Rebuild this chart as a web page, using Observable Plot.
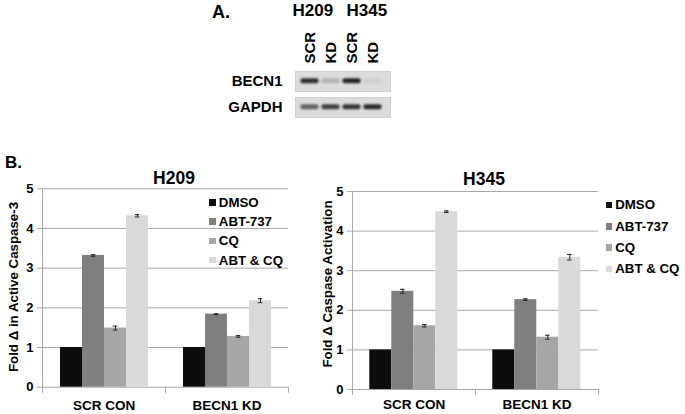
<!DOCTYPE html>
<html><head><meta charset="utf-8">
<script src="https://cdn.jsdelivr.net/npm/d3@7"></script>
<script src="https://cdn.jsdelivr.net/npm/@observablehq/plot@0.6"></script>
<style>
body{margin:0;background:#fff;}
#root{position:relative;width:685px;height:414px;overflow:hidden;font-family:"Liberation Sans",Arial,sans-serif;font-weight:bold;color:#000;background:#fff;}
.abs{position:absolute;white-space:nowrap;line-height:1;}
.abs svg{overflow:visible;}
.rot{position:absolute;white-space:nowrap;line-height:1;transform:translate(-50%,-50%) rotate(-90deg);}
</style></head><body><div id="root"></div>
<script>
// ---------- data ----------
const categories = ["SCR CON", "BECN1 KD"];
const treatments = ["DMSO", "ABT-737", "CQ", "ABT & CQ"];
const treatmentColors = ["#0d0d0d", "#7f7f7f", "#a6a6a6", "#d9d9d9"];
const h209Values = [[1, 3.32, 1.49, 4.32], [1, 1.84, 1.28, 2.18]];
const h209Errors = [[0, 0.02, 0.05, 0.03], [0, 0.01, 0.02, 0.05]];
const h345Values = [[1, 2.48, 1.61, 4.49], [1, 2.27, 1.32, 3.34]];
const h345Errors = [[0, 0.05, 0.03, 0.02], [0, 0.02, 0.05, 0.07]];
const yTicks = [0, 1, 2, 3, 4, 5];
const lanes = ["H209 SCR", "H209 KD", "H345 SCR", "H345 KD"];
const laneLabels = ["SCR", "KD", "SCR", "KD"];
const cellLines = ["H209", "H345"];
const blotRows = ["BECN1", "GAPDH"];
const becn1Intensity = [0.86, 0.2, 0.92, 0.05];
const gapdhIntensity = [0.6, 0.78, 0.84, 0.9];

const root = document.getElementById("root");
const FONT = "Liberation Sans, Arial, sans-serif";
const GRID = "#a8a8a8";

function place(node, left, top) {
  const d = document.createElement("div");
  d.className = "abs";
  d.style.left = left + "px";
  d.style.top = top + "px";
  d.appendChild(node);
  root.appendChild(d);
  return d;
}
function label(text, x, baseline, fs) {
  const s = document.createElement("span");
  s.textContent = text;
  s.style.fontSize = fs + "px";
  return place(s, x, baseline - 0.85 * fs);
}
function vlabel(text, cx, cy, fs) {
  const s = document.createElement("div");
  s.className = "rot";
  s.textContent = text;
  s.style.fontSize = fs + "px";
  s.style.left = cx + "px";
  s.style.top = cy + "px";
  root.appendChild(s);
}

// ---------- panel A: blot ----------
const blotData = [];
blotRows.forEach((r, i) => lanes.forEach((l, j) =>
  blotData.push({row: r, lane: l, k: (i === 0 ? becn1Intensity : gapdhIntensity)[j]})));
const band = d3.interpolateRgb("#dadada", "#141414");
const blot = Plot.plot({
  width: 200, height: 125,
  marginLeft: 95, marginRight: 10, marginTop: 71, marginBottom: 7.7,
  style: {fontFamily: FONT, fontWeight: "bold", background: "transparent", overflow: "visible"},
  x: {domain: lanes, range: [98, 184], padding: 0, axis: null},
  fy: {domain: blotRows, paddingInner: 0.25, paddingOuter: 0, label: null},
  marks: [
    Plot.frame({fill: "#dcdcdc", stroke: "#d0d0d0"}),
    Plot.cell(blotData, {fy: "row", x: "lane", fill: d => band(d.k), insetTop: 7.3, insetBottom: 7.7, insetLeft: 1.5, insetRight: 1.5, rx: 2}),
    Plot.axisFy({anchor: "left", tickSize: 0, tickPadding: 13, fontSize: 15, label: null}),
    Plot.text(lanes, {x: d => d, fy: () => "BECN1", text: (d, i) => laneLabels[i], frameAnchor: "top", dy: -8,
      rotate: -90, textAnchor: "start", lineAnchor: "middle", fontSize: 15, facetAnchor: "top"})
  ]
});
blot.querySelectorAll("rect").forEach(r => { if (r.getAttribute("rx")) r.style.filter = "blur(0.8px)"; });
place(blot, 200, 0);
label("A.", 212, 18.3, 18);
label(cellLines[0], 292.5, 16.7, 17);
label(cellLines[1], 346.5, 16.7, 17);

// ---------- panel B: bar charts ----------
function barChart(o) {
  const data = [];
  categories.forEach((c, i) => treatments.forEach((t, j) =>
    data.push({cat: c, trt: t, v: o.values[i][j], e: o.errors[i][j]})));
  const errs = data.filter(d => d.e > 0);
  const ph = o.height - o.mT - o.mB;
  const svg = Plot.plot({
    width: o.width, height: o.height,
    marginLeft: o.mL, marginRight: o.mR, marginTop: o.mT, marginBottom: o.mB,
    style: {fontFamily: FONT, fontWeight: "bold", background: "transparent", overflow: "visible"},
    fx: {domain: categories, padding: 0, label: null},
    x: {domain: treatments, paddingInner: 0, paddingOuter: 0.73, axis: null},
    y: {domain: [0, 5], label: null},
    color: {domain: treatments, range: treatmentColors},
    marks: [
      Plot.gridY(yTicks, {stroke: GRID, strokeOpacity: 1}),
      Plot.frame({anchor: "left", stroke: GRID, facetAnchor: "left"}),
      Plot.frame({anchor: "left", stroke: GRID, insetTop: ph, insetBottom: -5}),
      Plot.frame({anchor: "right", stroke: GRID, insetTop: ph, insetBottom: -5}),
      Plot.axisY(yTicks, {tickSize: 5, tickPadding: 4, stroke: GRID, fill: "#000", fontSize: 13, label: null, tickFormat: d => String(d)}),
      Plot.axisFx({anchor: "bottom", tickSize: 0, tickPadding: o.fxPad, fontSize: 13.5, label: null}),
      Plot.barY(data, {fx: "cat", x: "trt", y: "v", fill: "trt"}),
      Plot.ruleX(errs, {fx: "cat", x: "trt", y1: d => d.v - d.e, y2: d => d.v + d.e, stroke: "#222"}),
      Plot.tickY(errs, {fx: "cat", x: "trt", y: d => d.v - d.e, stroke: "#222", insetLeft: 8.75, insetRight: 8.75}),
      Plot.tickY(errs, {fx: "cat", x: "trt", y: d => d.v + d.e, stroke: "#222", insetLeft: 8.75, insetRight: 8.75}),
      Plot.text([o.title], {frameAnchor: "top", dx: 8.5, dy: o.titleDy, facet: "super", fontSize: 17.5, lineAnchor: "middle"})
    ]
  });
  place(svg, o.left, o.top);
  vlabel(o.ylabel, o.ylabelX, o.ylabelY, 13.3);
  // legend
  const lg = document.createElement("div");
  treatments.forEach((t, j) => {
    const row = document.createElement("div");
    row.style.cssText = `position:absolute;left:0;top:${j * o.legStep}px;height:14px;display:flex;align-items:center;font-size:13.3px;`;
    const sw = document.createElement("span");
    sw.style.cssText = `display:inline-block;width:6.5px;height:6.5px;background:${treatmentColors[j]};margin-right:3px;`;
    const tx = document.createElement("span");
    tx.textContent = t;
    row.appendChild(sw); row.appendChild(tx);
    lg.appendChild(row);
  });
  place(lg, o.legX, o.legY - 7);
}

barChart({values: h209Values, errors: h209Errors, title: "H209", ylabel: "Fold \u0394 in Active Caspase-3",
  left: 0, top: 150, width: 340, height: 264, mL: 42, mR: 52, mT: 38.3, mB: 27.3,
  fxPad: 13, titleDy: -10, ylabelX: 14, ylabelY: 286.5, legX: 209.3, legY: 202.3, legStep: 19.3});
barChart({values: h345Values, errors: h345Errors, title: "H345", ylabel: "Fold \u0394 Caspase Activation",
  left: 310, top: 150, width: 375, height: 264, mL: 41.7, mR: 86.7, mT: 41, mB: 25,
  fxPad: 10, titleDy: -12.3, ylabelX: 327.5, ylabelY: 284, legX: 605.7, legY: 205, legStep: 21.3});
label("B.", 5, 168.3, 17);
</script></body></html>
